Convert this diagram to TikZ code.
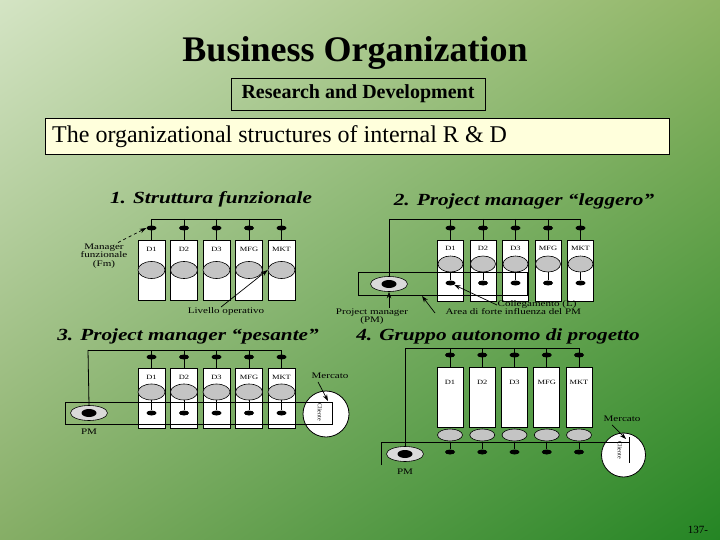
\documentclass[tikz,border=0pt]{standalone}
\usepackage{fontspec}
\setmainfont{Liberation Serif}
\usetikzlibrary{shapes.geometric,arrows.meta,shadings}
\definecolor{bgUL}{HTML}{D4E4C4}
\definecolor{bgUR}{HTML}{8FB565}
\definecolor{bgLL}{HTML}{86AE66}
\definecolor{bgLR}{HTML}{248524}
\definecolor{notefill}{HTML}{FFFFDC}
\definecolor{greyfill}{HTML}{C4C4C4}
\definecolor{pmgrey}{HTML}{DADADA}
\newcommand\ntxt[1]{\scalebox{1.3}[1]{\begin{tabular}{@{}c@{}}#1\end{tabular}}}
\newcommand\bxt[1]{\scalebox{1.3}[1]{#1}}
\newcommand\hdt[1]{\scalebox{1.25}[1]{#1}}
\begin{document}
\begin{tikzpicture}[x=1pt,y=-1pt,
  wire/.style={draw=black,line width=0.8pt},
  box/.style={draw=black,fill=white,line width=0.8pt,minimum width=26pt,inner sep=0pt},
  boxlbl/.style={font=\fontsize{6.5}{7}\selectfont,inner sep=0pt},
  grey/.style={ellipse,draw=black,fill=greyfill,line width=0.6pt,minimum width=26pt,minimum height=16pt,inner sep=0pt},
  knob/.style={ellipse,fill=black,minimum width=10pt,minimum height=5pt,inner sep=0pt},
  pmout/.style={ellipse,draw=black,fill=pmgrey,line width=0.6pt,minimum width=37pt,minimum height=15pt,inner sep=0pt},
  pmin/.style={ellipse,fill=black,minimum width=15pt,minimum height=8pt,inner sep=0pt},
  note/.style={font=\fontsize{8.5}{8.5}\selectfont,inner sep=0.5pt},
  head/.style={font=\fontsize{17}{18}\bfseries\itshape,inner sep=0pt},
  arr/.style={line width=0.7pt,-{Stealth[length=6.5pt,width=4.5pt]}},
  market/.style={circle,draw=black,fill=white,line width=0.8pt,inner sep=0pt}]
\useasboundingbox (0,0) rectangle (720,540);
\shade[upper left=bgUL,upper right=bgUR,lower left=bgLL,lower right=bgLR] (0,0) rectangle (720,540);

% ---------- titles ----------
\node[font=\fontsize{36}{40}\selectfont\bfseries,inner sep=0pt] (title) at (355,53) {Business Organization};
\node[draw=black,line width=0.8pt,minimum width=254pt,minimum height=32pt,inner sep=0pt,
      font=\fontsize{20}{22}\selectfont\bfseries] (rd) at (358,94) {Research and Development};
\node[draw=black,fill=notefill,line width=0.8pt,minimum width=624pt,minimum height=36pt,inner sep=0pt] (sub) at (357,136) {};
\node[anchor=west,font=\fontsize{24}{26}\selectfont,inner sep=0pt] (subt) at (52,137) {The organizational structures of internal R \& D};

% ---------- headings ----------
\node[head] (h1) at (211,199) {\hdt{1. Struttura funzionale}};
\node[head] (h2) at (524,201) {\hdt{2. Project manager “leggero”}};
\node[head] (h3) at (188,336) {\hdt{3. Project manager “pesante”}};
\node[head] (h4) at (498,336) {\hdt{4. Gruppo autonomo di progetto}};

% ---------- 1. Struttura funzionale ----------
\foreach \i/\lab in {0/D1,1/D2,2/D3,3/MFG,4/MKT}{
  \pgfmathsetmacro\xx{151.5+32.5*\i}
  \coordinate (t1-\i) at (\xx,219);
  \node[box,minimum height=60pt,minimum width=27pt] (b1-\i) at (\xx,270) {};
  \node[boxlbl] (l1-\i) at (\xx,249) {\bxt{\lab}};
  \node[grey,minimum width=27pt,minimum height=17pt] (g1-\i) at (\xx,270) {};
  \draw[wire] (t1-\i) -- (b1-\i.north);
  \node[knob] (k1-\i) at (\xx,228) {};
}
\draw[wire] (t1-0) -- (t1-4);
\node[note] (fm) at (104,256) {\ntxt{Manager\\funzionale\\(Fm)}};
\draw[arr,dashed] ([xshift=-10pt]fm.north east) -- (k1-0.west);
\node[note] (lo) at (226,312) {\ntxt{Livello operativo}};
\draw[arr] ([xshift=-5pt]lo.north) -- (g1-4.west);

% ---------- 2. Project manager leggero ----------
\foreach \i/\lab in {0/D1,1/D2,2/D3,3/MFG,4/MKT}{
  \pgfmathsetmacro\xx{450.5+32.5*\i}
  \coordinate (t2-\i) at (\xx,219);
  \node[box,minimum height=61pt] (b2-\i) at (\xx,270.5) {};
  \node[boxlbl] (l2-\i) at (\xx,248) {\bxt{\lab}};
  \node[grey,minimum width=25pt] (g2-\i) at (\xx,264) {};
  \draw[wire] (t2-\i) -- (b2-\i.north);
  \node[knob] (k2-\i) at (\xx,228) {};
  \node[knob] (d2-\i) at (\xx,283) {};
  \draw[wire] (g2-\i.south) -- (d2-\i);
}
\coordinate (t2-pm) at (389,219);
\draw[wire] (t2-pm) -- (t2-4);
\node[draw=black,line width=0.8pt,minimum width=169pt,minimum height=23pt,inner sep=0pt] (area2) at (442.5,284) {};
\node[pmout] (pm2) at (389,284) {};
\node[pmin] (pmi2) at (389,284) {};
\draw[wire] (t2-pm) -- (pm2.north);
\node[note,anchor=west] (coll) at (497,305) {\ntxt{Collegamento (L)}};
\draw[arr] (coll.west) -- (d2-0.south east);
\node[note,anchor=west] (area) at (445,313) {\ntxt{Area di forte influenza del PM}};
\coordinate (a2tip) at (422,296);
\draw[arr] ([xshift=-10pt]area.west) -- (a2tip);
\node[note] (pml2) at (372,317) {\ntxt{Project manager\\(PM)}};
\draw[arr] (pm2.south |- pml2.north) -- (pm2.south);

% ---------- 3. Project manager pesante ----------
\node[market,minimum size=46pt] (mk3) at (326,414) {};
\node[font=\fontsize{6}{6}\selectfont,rotate=-90,inner sep=0pt] (cl3) at (320,412) {Cliente};
\foreach \i/\lab in {0/D1,1/D2,2/D3,3/MFG,4/MKT}{
  \pgfmathsetmacro\xx{151.5+32.5*\i}
  \coordinate (t3-\i) at (\xx,350);
  \node[box,minimum height=60pt,minimum width=27pt] (b3-\i) at (\xx,398) {};
  \node[boxlbl] (l3-\i) at (\xx,377) {\bxt{\lab}};
  \node[grey,minimum width=27pt] (g3-\i) at (\xx,392) {};
  \draw[wire] (t3-\i) -- (b3-\i.north);
  \node[knob] (k3-\i) at (\xx,357) {};
  \node[knob] (d3-\i) at (\xx,413) {};
  \draw[wire] (g3-\i.south) -- (d3-\i);
}
\coordinate (t3-pm) at (88,350);
\draw[wire] (t3-pm) -- (t3-4);
\node[draw=black,line width=0.8pt,minimum width=267pt,minimum height=22pt,inner sep=0pt] (area3) at (198.5,413) {};
\node[pmout] (pm3) at (89,413) {};
\node[pmin] (pmi3) at (89,413) {};
\draw[wire] (t3-pm) -- (pm3.north);
\node[note] (pml3) at (89,433) {\ntxt{PM}};
\node[note] (mc3) at (330,377) {\ntxt{Mercato}};
\coordinate (m3tip) at (328,401);
\draw[arr] ([xshift=-12pt]mc3.south) -- (m3tip);

% ---------- 4. Gruppo autonomo di progetto ----------
\node[market,minimum size=44pt] (mk4) at (623.5,455) {};
\node[font=\fontsize{6}{6}\selectfont,rotate=-90,inner sep=0pt] (cl4) at (620,450) {Cliente};
\coordinate (v4a) at (629,437);
\coordinate (v4b) at (629,463);
\draw[wire] (v4a) -- (v4b);
\coordinate (h4l) at (381,442);
\coordinate (h4r) at (629,442);
\coordinate (h4d) at (381,465);
\draw[wire] (h4d) -- (h4l) -- (h4r);
\foreach \i/\lab in {0/D1,1/D2,2/D3,3/MFG,4/MKT}{
  \pgfmathsetmacro\xx{450+32.25*\i}
  \coordinate (t4-\i) at (\xx,348);
  \coordinate (r4-\i) at (\xx,442);
  \node[box,minimum height=60pt] (b4-\i) at (\xx,397) {};
  \node[boxlbl] (l4-\i) at (\xx,382) {\bxt{\lab}};
  \node[grey,minimum width=25pt,minimum height=12pt] (g4-\i) at (\xx,435) {};
  \draw[wire] (t4-\i) -- (b4-\i.north);
  \node[knob] (k4-\i) at (\xx,355) {};
  \node[knob] (d4-\i) at (\xx,452) {};
  \draw[wire] (r4-\i) -- (d4-\i);
}
\coordinate (t4-pm) at (405,348);
\draw[wire] (t4-pm) -- (t4-4);
\node[pmout] (pm4) at (405,454) {};
\node[pmin] (pmi4) at (405,454) {};
\draw[wire] (t4-pm) -- (pm4.north);
\node[note] (pml4) at (405,473) {\ntxt{PM}};
\node[note] (mc4) at (622,420) {\ntxt{Mercato}};
\coordinate (m4tip) at (626,439);
\draw[arr] ([xshift=-10pt]mc4.south) -- (m4tip);

% ---------- page number ----------
\node[font=\fontsize{11}{12}\selectfont,inner sep=0pt] (pg) at (698,530) {137-};
\end{tikzpicture}
\end{document}
